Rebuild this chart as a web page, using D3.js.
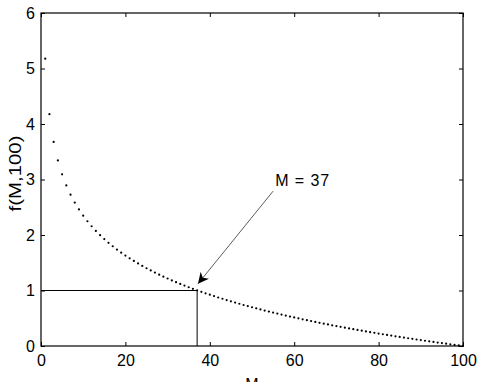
<!DOCTYPE html>
<html>
<head>
<meta charset="utf-8">
<script src="https://cdn.jsdelivr.net/npm/d3@7"></script>
<style>
  body { margin: 0; background: #fff; }
  text { font-family: "Liberation Sans", Arial, sans-serif; }
</style>
</head>
<body>
<svg width="489" height="382"></svg>
<script>
// M = 1..100
var mValues = d3.range(1, 101)
var fValues = [
    5.177, 4.177, 3.677, 3.344, 3.094, 2.894, 2.727, 2.585, 2.460, 2.348,
    2.248, 2.158, 2.074, 1.997, 1.926, 1.859, 1.797, 1.738, 1.682, 1.630,
    1.580, 1.532, 1.487, 1.443, 1.401, 1.361, 1.323, 1.286, 1.250, 1.216,
    1.182, 1.150, 1.119, 1.089, 1.059, 1.031, 1.003, 0.976, 0.949, 0.924,
    0.899, 0.874, 0.851, 0.827, 0.805, 0.782, 0.761, 0.739, 0.719, 0.698,
    0.678, 0.659, 0.639, 0.620, 0.602, 0.584, 0.566, 0.548, 0.531, 0.514,
    0.498, 0.481, 0.465, 0.449, 0.433, 0.418, 0.403, 0.388, 0.373, 0.359,
    0.345, 0.330, 0.317, 0.303, 0.289, 0.276, 0.263, 0.250, 0.237, 0.224,
    0.212, 0.200, 0.187, 0.175, 0.163, 0.152, 0.140, 0.129, 0.117, 0.106,
    0.095, 0.084, 0.073, 0.062, 0.052, 0.041, 0.031, 0.020, 0.010, 0.000
]
var xTicks = [0, 20, 40, 60, 80, 100]
var yTicks = [0, 1, 2, 3, 4, 5, 6]
var optimalM = 37
var optimalF = 1
var annotation = { label: "M = 37", x: 55.5, y: 2.88, fromX: 55.0, fromY: 2.79, toX: 37.2, toY: 1.12 }

function draw_chart() {
    var svg = d3.select("svg"),
        margin = { top: 13, right: 26, bottom: 36, left: 41 },
        width = +svg.attr("width") - margin.left - margin.right,
        height = +svg.attr("height") - margin.top - margin.bottom,
        g = svg.append("g").attr("transform", "translate(" + margin.left + "," + margin.top + ")");

    var x = d3.scaleLinear().domain([0, 100]).range([0, width])
    var y = d3.scaleLinear().domain([0, 6]).range([height, 0])

    var data = mValues.map(function (m, i) { return { m: m, f: fValues[i] } })

    // axes with inward ticks, mirrored on top / right
    var bottom = g.append("g")
        .attr("transform", "translate(0," + height + ")")
        .call(d3.axisBottom(x).tickValues(xTicks).tickFormat(d3.format("d"))
            .tickSizeInner(-4).tickSizeOuter(0).tickPadding(9))
    var left = g.append("g")
        .call(d3.axisLeft(y).tickValues(yTicks).tickFormat(d3.format("d"))
            .tickSizeInner(-4).tickSizeOuter(0).tickPadding(6))
    var top = g.append("g")
        .call(d3.axisTop(x).tickValues(xTicks).tickSizeInner(-4).tickSizeOuter(0).tickFormat(""))
    var right = g.append("g")
        .attr("transform", "translate(" + width + ",0)")
        .call(d3.axisRight(y).tickValues(yTicks).tickSizeInner(-4).tickSizeOuter(0).tickFormat(""))

    ;[bottom, left, top, right].forEach(function (a) {
        a.selectAll(".domain").remove()
        a.selectAll("line").attr("stroke", "#000").attr("stroke-width", 1)
        a.selectAll("text").attr("fill", "#000").style("font-size", "16px")
            .style("font-family", "Liberation Sans, Arial, sans-serif")
    })

    g.append("rect")
        .attr("x", 0).attr("y", 0)
        .attr("width", width).attr("height", height)
        .attr("fill", "none").attr("stroke", "#000").attr("stroke-width", 1.2)

    // reference lines at M = 37, f = 1
    g.append("path")
        .attr("d", d3.line()([[x(0), y(optimalF)], [x(optimalM), y(optimalF)], [x(optimalM), y(0)]]))
        .attr("fill", "none").attr("stroke", "#000").attr("stroke-width", 1)

    g.selectAll(".dot")
        .data(data)
        .enter().append("circle")
        .attr("class", "dot")
        .attr("cx", function (d) { return x(d.m) })
        .attr("cy", function (d) { return y(d.f) })
        .attr("r", 1.1)
        .attr("fill", "#000")

    // arrow annotation
    svg.append("defs").append("marker")
        .attr("id", "arrow")
        .attr("viewBox", "0 0 10 10")
        .attr("refX", 10).attr("refY", 5)
        .attr("markerWidth", 11).attr("markerHeight", 11)
        .attr("markerUnits", "userSpaceOnUse")
        .attr("orient", "auto")
        .append("path")
        .attr("d", "M0,0 L10,5 L0,10 L3,5 Z")
        .attr("fill", "#000")

    g.append("line")
        .attr("x1", x(annotation.fromX)).attr("y1", y(annotation.fromY))
        .attr("x2", x(annotation.toX)).attr("y2", y(annotation.toY))
        .attr("stroke", "#333").attr("stroke-width", 0.8)
        .attr("marker-end", "url(#arrow)")

    g.append("text")
        .attr("x", x(annotation.x)).attr("y", y(annotation.y))
        .attr("textLength", 54).attr("lengthAdjust", "spacing")
        .style("font-size", "16px")
        .text(annotation.label)

    // axis labels
    g.append("text")
        .attr("x", width / 2).attr("y", height + 44)
        .attr("text-anchor", "middle")
        .style("font-size", "16px")
        .text("M")

    g.append("text")
        .attr("transform", "translate(" + (-20) + "," + (y(3) - 6) + ") rotate(-90)")
        .attr("text-anchor", "middle")
        .attr("textLength", 76).attr("lengthAdjust", "spacingAndGlyphs")
        .style("font-size", "16px")
        .text("f(M,100)")
}

draw_chart()
</script>
</body>
</html>
